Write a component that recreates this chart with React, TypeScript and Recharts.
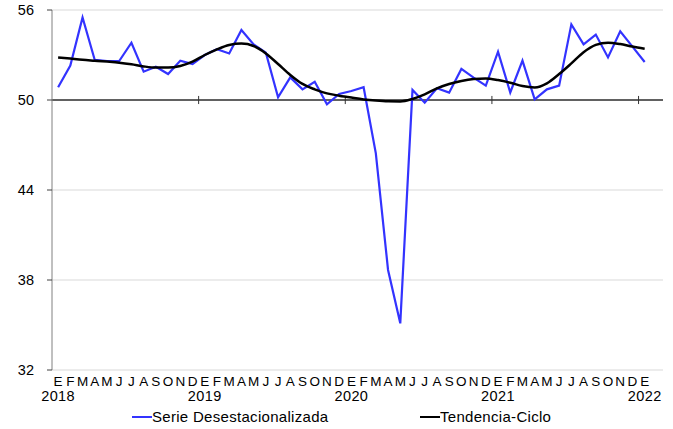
import { LineChart, Line, XAxis, YAxis, CartesianGrid, ReferenceLine } from 'recharts';

const meses = ['E', 'F', 'M', 'A', 'M', 'J', 'J', 'A', 'S', 'O', 'N', 'D'];
const anios = ['2018', '2019', '2020', '2021', '2022'];

// Enero 2018 - Enero 2022
const serieDesestacionalizada = [
  50.85, 52.3, 55.5, 52.67, 52.6, 52.6, 53.82, 51.89, 52.22, 51.73, 52.62, 52.4,
  53.0, 53.38, 53.1, 54.67, 53.71, 53.16, 50.18, 51.51, 50.71, 51.22, 49.71, 50.4,
  50.6, 50.85, 46.44, 38.67, 35.11, 50.67, 49.82, 50.78, 50.49, 52.07, 51.49, 50.96,
  53.22, 50.5, 52.62, 50.04, 50.71, 50.96, 55.04, 53.71, 54.36, 52.84, 54.58, 53.56,
  52.53,
];

const tendenciaCiclo = [
  52.84, 52.76, 52.68, 52.62, 52.56, 52.49, 52.38, 52.24, 52.16, 52.16, 52.27, 52.56,
  53.0, 53.38, 53.67, 53.76, 53.6, 53.1, 52.4, 51.67, 51.07, 50.71, 50.44, 50.29,
  50.16, 50.04, 49.96, 49.91, 49.9, 50.07, 50.38, 50.78, 51.07, 51.27, 51.4, 51.44,
  51.33, 51.15, 50.93, 50.84, 51.11, 51.73, 52.44, 53.18, 53.67, 53.82, 53.73, 53.56,
  53.42,
];

const yTicks = [32, 38, 44, 50, 56];
const cortesAnio = [11.5, 23.5, 35.5, 47.5];

const data = serieDesestacionalizada.map((v, i) => ({
  i,
  mes: meses[i % 12],
  anio: i % 12 === 0 ? anios[i / 12] : '',
  serie: v,
  tendencia: tendenciaCiclo[i],
}));

const FONT = '"Liberation Sans", Arial, sans-serif';

const MesTick = (props: any) => {
  const { x, y, payload } = props;
  const d = data[payload.value];
  if (!d) return null;
  return (
    <g>
      <text x={x} y={y + 16} textAnchor="middle" fontSize={13.5} fontFamily={FONT} fill="#000">
        {d.mes}
      </text>
      {d.anio && (
        <text x={x} y={y + 31} textAnchor="middle" fontSize={14.5} letterSpacing={0.4} fontFamily={FONT} fill="#000">
          {d.anio}
        </text>
      )}
    </g>
  );
};

const LegendItem = ({ color, label, left }: { color: string; label: string; left: number }) => (
  <div style={{ position: 'absolute', left, top: 408, display: 'flex', alignItems: 'center' }}>
    <div style={{ width: 20, height: 0, borderTop: `2.5px solid ${color}` }} />
    <span style={{ fontFamily: FONT, fontSize: 15, letterSpacing: 0.3, color: '#000', lineHeight: '17px' }}>{label}</span>
  </div>
);

export default function App() {
  return (
    <div style={{ position: 'relative', width: 673, height: 429, background: '#fff' }}>
      <style>{'body{margin:0}'}</style>
      <LineChart width={673} height={429} data={data} margin={{ top: 10, right: 10, left: 0, bottom: 14 }}>
        <CartesianGrid vertical={false} stroke="#d9d9d9" />
        <XAxis
          dataKey="i"
          type="number"
          domain={[-0.5, 49.5]}
          ticks={data.map(d => d.i)}
          interval={0}
          axisLine={false}
          tickLine={false}
          tickSize={0}
          tickMargin={0}
          height={45}
          tick={<MesTick />}
        />
        <YAxis
          domain={[32, 56]}
          ticks={yTicks}
          width={52}
          axisLine={{ stroke: '#808080' }}
          tickLine={{ stroke: '#404040' }}
          tickSize={5}
          tickMargin={13}
          tick={{ fill: '#000', fontSize: 14.5, fontFamily: FONT }}
        />
        <ReferenceLine y={50} stroke="#333" strokeWidth={1.5} />
        {cortesAnio.map(c => (
          <ReferenceLine
            key={c}
            segment={[{ x: c, y: 49.73 }, { x: c, y: 50.27 }]}
            stroke="#333"
            strokeWidth={1}
          />
        ))}
        <Line
          dataKey="serie"
          stroke="#3333ff"
          strokeWidth={2.2}
          dot={false}
          type="linear"
          isAnimationActive={false}
        />
        <Line
          dataKey="tendencia"
          stroke="#000"
          strokeWidth={2.5}
          dot={false}
          type="monotone"
          isAnimationActive={false}
        />
      </LineChart>
      <LegendItem color="#3333ff" label="Serie Desestacionalizada" left={132} />
      <LegendItem color="#000" label="Tendencia-Ciclo" left={420} />
    </div>
  );
}
